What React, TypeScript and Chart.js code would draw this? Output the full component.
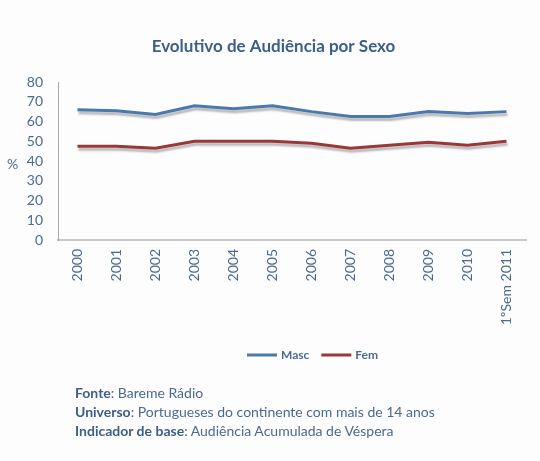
import React, { useEffect, useRef } from "react";
import { Chart, registerables } from "chart.js";

Chart.register(...registerables);

const titleText = "Evolutivo de Audiência por Sexo";
const categories = ["2000", "2001", "2002", "2003", "2004", "2005", "2006", "2007", "2008", "2009", "2010", "1ºSem 2011"];
const mascValues = [66, 65.5, 63.5, 68, 66.5, 68, 65, 62.5, 62.5, 65, 64, 65];
const femValues = [47.5, 47.5, 46.5, 50, 50, 50, 49, 46.5, 48, 49.5, 48, 50];
const seriesNames = ["Masc", "Fem"];
const yTicks = [0, 10, 20, 30, 40, 50, 60, 70, 80];

const FONT = "Lato, 'Open Sans', sans-serif";
const TEXT = "#4a6a90";
const TITLE = "#3c5e88";

const shadowPlugin = {
  id: "lineShadow",
  beforeDatasetDraw(chart: any) {
    const ctx = chart.ctx;
    ctx.save();
    ctx.shadowColor = "rgba(0,0,0,0.28)";
    ctx.shadowOffsetX = 1;
    ctx.shadowOffsetY = 3;
    ctx.shadowBlur = 2;
  },
  afterDatasetDraw(chart: any) {
    chart.ctx.restore();
  },
};

const extrasPlugin = {
  id: "extras",
  afterDraw(chart: any) {
    const ctx = chart.ctx;
    const area = chart.chartArea;
    ctx.save();
    // title
    ctx.fillStyle = TITLE;
    ctx.font = `bold 17px ${FONT}`;
    ctx.textAlign = "center";
    ctx.textBaseline = "middle";
    ctx.fillText(titleText, 273.5, 47);
    // y axis title "%"
    ctx.fillStyle = TEXT;
    ctx.font = `14px ${FONT}`;
    ctx.textAlign = "left";
    ctx.fillText("%", 7, (area.top + area.bottom) / 2 + 3);
    // legend
    ctx.font = `bold 12px ${FONT}`;
    let x = 247;
    const y = 355;
    chart.data.datasets.forEach((ds: any) => {
      ctx.strokeStyle = ds.borderColor;
      ctx.lineWidth = 3;
      ctx.beginPath();
      ctx.moveTo(x, y);
      ctx.lineTo(x + 30, y);
      ctx.stroke();
      ctx.fillStyle = TEXT;
      ctx.fillText(ds.label, x + 34, y);
      x += 34 + ctx.measureText(ds.label).width + 12;
    });
    ctx.restore();
  },
};

export default function App() {
  const ref = useRef<HTMLCanvasElement>(null);

  useEffect(() => {
    document.body.style.margin = "0";
    const chart = new Chart(ref.current!, {
      type: "line",
      data: {
        labels: categories,
        datasets: [
          {
            label: seriesNames[0],
            data: mascValues,
            borderColor: "#4a79ad",
            backgroundColor: "#4a79ad",
            borderWidth: 3,
            pointRadius: 0,
            tension: 0,
          },
          {
            label: seriesNames[1],
            data: femValues,
            borderColor: "#993836",
            backgroundColor: "#993836",
            borderWidth: 3,
            pointRadius: 0,
            tension: 0,
          },
        ],
      },
      options: {
        responsive: false,
        animation: false,
        layout: { padding: { top: 82, left: 3, right: 14, bottom: 121 } },
        plugins: {
          legend: { display: false },
          tooltip: { enabled: false },
          title: { display: false },
        },
        scales: {
          x: {
            type: "category",
            offset: true,
            grid: { display: false, drawTicks: false },
            border: { display: true, color: "#c8c8c8", width: 2 },
            ticks: {
              color: TEXT,
              font: { family: FONT, size: 14 },
              maxRotation: 90,
              minRotation: 90,
              autoSkip: false,
              padding: 9,
            },
            afterFit(scale: any) {
              scale.height = 100;
            },
          },
          y: {
            min: 0,
            max: 80,
            afterBuildTicks(scale: any) {
              scale.ticks = yTicks.map((v) => ({ value: v }));
            },
            grid: { display: false, drawTicks: false },
            border: { display: true, color: "#a8a8a8", width: 1 },
            ticks: {
              color: TEXT,
              font: { family: FONT, size: 14 },
              padding: 15,
              autoSkip: false,
            },
            afterFit(scale: any) {
              scale.width = 55;
            },
          },
        },
      },
      plugins: [shadowPlugin, extrasPlugin],
    });
    return () => chart.destroy();
  }, []);

  const noteStyle: React.CSSProperties = {
    fontFamily: FONT,
    fontSize: 14,
    color: TEXT,
    lineHeight: "19px",
    whiteSpace: "nowrap",
  };
  const bold: React.CSSProperties = { fontWeight: "bold", color: "#3c5e88" };

  return (
    <div style={{ position: "absolute", left: 0, top: 0, width: 540, height: 461, background: "#fdfdfd" }}>
      <canvas ref={ref} width={540} height={461} style={{ position: "absolute", left: 0, top: 0 }} />
      <div style={{ position: "absolute", left: 75, top: 383, ...noteStyle }}>
        <div><span style={bold}>Fonte</span>: Bareme Rádio</div>
        <div><span style={bold}>Universo</span>: Portugueses do continente com mais de 14 anos</div>
        <div><span style={bold}>Indicador de base</span>: Audiência Acumulada de Véspera</div>
      </div>
    </div>
  );
}
